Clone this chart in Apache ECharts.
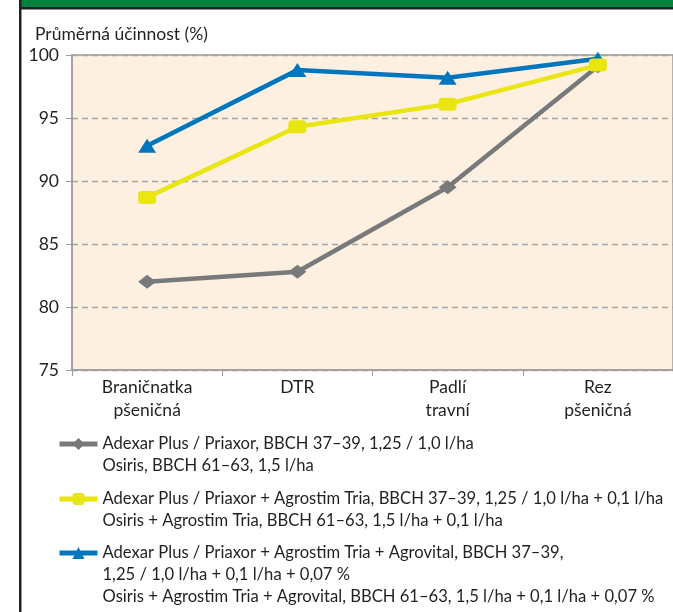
<!DOCTYPE html>
<html>
<head>
<meta charset="utf-8">
<title>Průměrná účinnost</title>
<script src="https://cdn.jsdelivr.net/npm/echarts@6/dist/echarts.min.js"></script>
<style>
  html, body { margin: 0; padding: 0; background: #fff; }
  #chart { width: 673px; height: 612px; }
</style>
</head>
<body>
<div id="chart"></div>
<script>
// kategorie (osa x)
var categories = ['Braničnatka\npšeničná', 'DTR', 'Padlí\ntravní', 'Rez\npšeničná'];

// hodnoty ticků osy y
var yMin = 75, yMax = 100, yStep = 5;

// názvy variant (legenda)
var nameGray = 'Adexar Plus / Priaxor, BBCH 37–39, 1,25 / 1,0 l/ha\nOsiris, BBCH 61–63, 1,5 l/ha';
var nameYellow = 'Adexar Plus / Priaxor + Agrostim Tria, BBCH 37–39, 1,25 / 1,0 l/ha + 0,1 l/ha\nOsiris + Agrostim Tria, BBCH 61–63, 1,5 l/ha + 0,1 l/ha';
var nameBlue = 'Adexar Plus / Priaxor + Agrostim Tria + Agrovital, BBCH 37–39,\n1,25 / 1,0 l/ha + 0,1 l/ha + 0,07 %\nOsiris + Agrostim Tria + Agrovital, BBCH 61–63, 1,5 l/ha + 0,1 l/ha + 0,07 %';

// hodnoty (průměrná účinnost v %)
var valGray = [82.0, 82.8, 89.5, 99.1];
var valYellow = [88.7, 94.3, 96.1, 99.2];
var valBlue = [92.8, 98.8, 98.2, 99.7];

var FONT = 'Lato';
var TXT = '#231f20';
var AXIS = '#9d9d9d';

var myChart = echarts.init(document.getElementById('chart'), null, { renderer: 'canvas' });

// jedna legenda pro každou položku; prázdné řádky nahoře posunou text,
// aby ikona stála u prvního řádku
function legendFor(name, top, lines) {
	var pre = '';
	for (var i = 1; i < lines; i++) {
		pre += ' \n';
	}
	return {
		data : [name],
		left : 57,
		top : top,
		padding : 0,
		itemWidth : 38,
		itemHeight : 15,
		itemGap : 0,
		selectedMode : false,
		lineStyle : { width : 5 },
		formatter : function(n) {
			return pre + n;
		},
		textStyle : {
			fontFamily : FONT,
			fontSize : 16.6,
			color : TXT,
			lineHeight : 22
		}
	};
}

var option = {
	animation : false,
	backgroundColor : '#fff',
	textStyle : { fontFamily : FONT },
	title : {
		text : 'Průměrná účinnost (%)',
		left : 30,
		top : 20,
		textStyle : { fontFamily : FONT, fontSize : 17.5, fontWeight : 'normal', color : TXT }
	},
	graphic : [
		{ type : 'rect', shape : { x : 21, y : 0, width : 660, height : 7 }, style : { fill : '#00813f' }, silent : true },
		{ type : 'rect', shape : { x : 19, y : 7, width : 660, height : 2.5 }, style : { fill : '#231f20' }, silent : true },
		{ type : 'rect', shape : { x : 19, y : 0, width : 2.5, height : 612 }, style : { fill : '#231f20' }, silent : true }
	],
	legend : [
		legendFor(nameGray, 411, 2),
		legendFor(nameYellow, 466, 2),
		legendFor(nameBlue, 498, 3)
	],
	grid : {
		left : 72,
		top : 55,
		width : 612,
		height : 315,
		show : true,
		backgroundColor : '#fdf0e1',
		borderColor : AXIS,
		borderWidth : 1.5
	},
	xAxis : {
		type : 'category',
		data : categories,
		boundaryGap : true,
		axisLine : { lineStyle : { color : AXIS, width : 1.5 } },
		axisTick : { show : true, length : 6, lineStyle : { color : AXIS } },
		axisLabel : { fontFamily : FONT, fontSize : 17.5, color : TXT, lineHeight : 23, margin : 6 }
	},
	yAxis : {
		type : 'value',
		min : yMin,
		max : yMax,
		interval : yStep,
		axisLine : { show : true, lineStyle : { color : AXIS, width : 1.5 } },
		axisTick : { show : true, length : 6, lineStyle : { color : AXIS } },
		axisLabel : { fontFamily : FONT, fontSize : 17.5, color : TXT, margin : 13 },
		splitLine : { show : true, lineStyle : { color : '#a3a3a3', type : [6, 4], width : 1.3 } }
	},
	series : [{
		name : nameGray,
		type : 'line',
		data : valGray,
		z : 2,
		symbol : 'diamond',
		symbolSize : [18, 14],
		lineStyle : { color : '#77797b', width : 4.5 },
		itemStyle : { color : '#77797b' }
	}, {
		name : nameBlue,
		type : 'line',
		data : valBlue,
		z : 3,
		symbol : 'triangle',
		symbolSize : [18, 14],
		lineStyle : { color : '#0076bf', width : 4.5 },
		itemStyle : { color : '#0076bf' }
	}, {
		name : nameYellow,
		type : 'line',
		data : valYellow,
		z : 4,
		symbol : 'roundRect',
		symbolSize : [18, 13],
		lineStyle : { color : '#e9e50e', width : 4.5 },
		itemStyle : { color : '#e9e50e' }
	}]
};

myChart.setOption(option);
</script>
</body>
</html>
